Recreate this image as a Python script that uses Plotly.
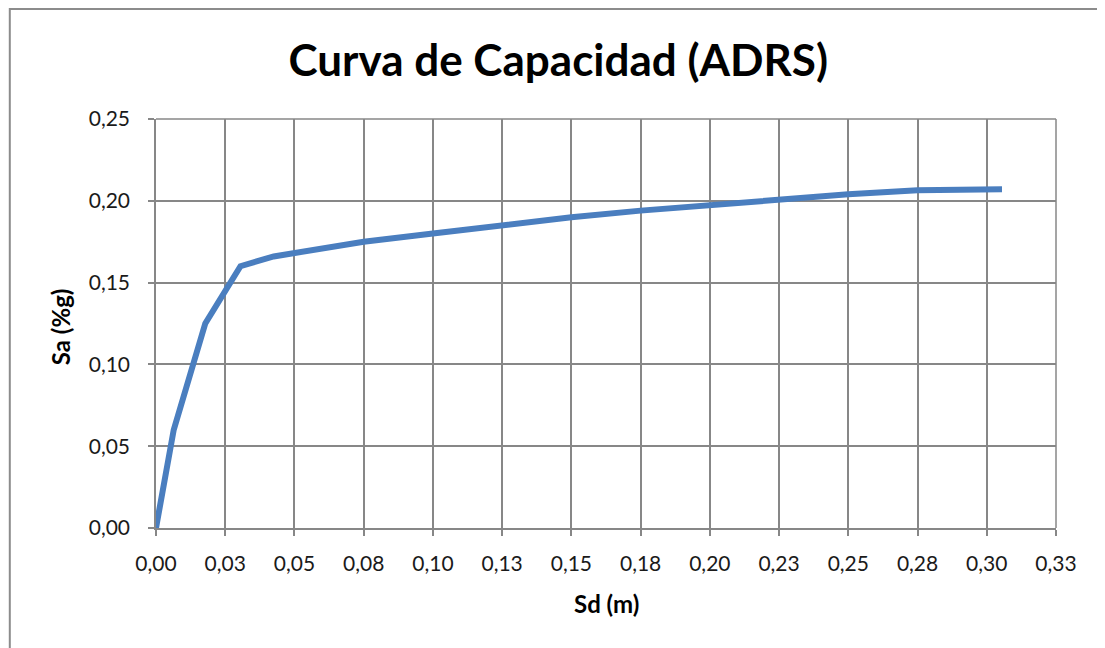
import plotly.graph_objects as go

sd = [0.0, 0.0064, 0.0178, 0.0305, 0.0425, 0.05, 0.075, 0.1, 0.125, 0.15,
      0.175, 0.2, 0.225, 0.25, 0.275, 0.3, 0.3055]
sa = [0.0, 0.060, 0.125, 0.160, 0.166, 0.168, 0.175, 0.180, 0.185, 0.190,
      0.194, 0.1975, 0.201, 0.204, 0.2065, 0.207, 0.207]

x_tickvals = [i * 0.025 for i in range(14)]
x_ticktext = ["0,00", "0,03", "0,05", "0,08", "0,10", "0,13", "0,15", "0,18",
              "0,20", "0,23", "0,25", "0,28", "0,30", "0,33"]
y_tickvals = [0.0, 0.05, 0.10, 0.15, 0.20, 0.25]
y_ticktext = ["0,00", "0,05", "0,10", "0,15", "0,20", "0,25"]

FONT = "Lato, 'Open Sans', sans-serif"
GRID = "#878787"

fig = go.Figure()
fig.add_trace(go.Scatter(x=sd, y=sa, mode="lines",
                         line=dict(color="#4A7EBF", width=6),
                         showlegend=False, hoverinfo="x+y"))

W, H = 1105, 648
OFF = 8  # page body margin
L, T = 155.7 - OFF, 119 - OFF
R = W - (1055.7 - OFF)
B = H - (528.3 - OFF)
pw, ph = W - L - R, H - T - B

def px_x(sx):
    return (sx - OFF - L) / pw

def px_y(sy):
    return 1 - (sy - OFF - T) / ph

fig.update_layout(
    width=W, height=H,
    margin=dict(l=L, r=R, t=T, b=B),
    paper_bgcolor="white", plot_bgcolor="white",
    separators=", ",
    title=dict(text="<b>Curva de Capacidad (ADRS)</b>", x=px_x(558), xref="paper",
               xanchor="center", y=1 - (61 - OFF) / H, yanchor="middle",
               font=dict(family=FONT, size=44, color="black")),
    font=dict(family=FONT, color="black"),
    xaxis=dict(range=[0, 0.325], tickvals=x_tickvals, ticktext=x_ticktext,
               showgrid=True, gridcolor=GRID, gridwidth=1.5,
               showline=True, linecolor=GRID, linewidth=1.5, mirror=False,
               ticks="outside", ticklen=6, tickcolor=GRID, tickwidth=1.5,
               ticklabelstandoff=10,
               tickfont=dict(size=21, family=FONT, color="#1a1a1a"),
               zeroline=False),
    yaxis=dict(range=[0, 0.25], tickvals=y_tickvals, ticktext=y_ticktext,
               showgrid=True, gridcolor=GRID, gridwidth=1.5,
               showline=True, linecolor=GRID, linewidth=1.5, mirror=False,
               ticks="outside", ticklen=6, tickcolor=GRID, tickwidth=1.5,
               ticklabelstandoff=14,
               tickfont=dict(size=21, family=FONT, color="#1a1a1a"),
               zeroline=False),
    annotations=[
        dict(text="<b>Sd (m)</b>", xref="paper", yref="paper",
             x=px_x(606), y=px_y(604), xanchor="center", yanchor="middle",
             showarrow=False, font=dict(size=24, family=FONT, color="black")),
        dict(text="<b>Sa (%g)</b>", xref="paper", yref="paper",
             x=px_x(61), y=px_y(327), xanchor="center", yanchor="middle",
             textangle=-90, showarrow=False,
             font=dict(size=24, family=FONT, color="black")),
    ],
    shapes=[
        dict(type="line", xref="paper", yref="paper",
             x0=1, x1=1, y0=0, y1=1, line=dict(color=GRID, width=1.5)),
        dict(type="line", xref="paper", yref="paper",
             x0=0, x1=1, y0=1, y1=1, line=dict(color=GRID, width=1.5)),
        dict(type="rect", xref="paper", yref="paper",
             x0=px_x(9.5), x1=px_x(W + 40),
             y0=px_y(H + 40), y1=1 + (T - 1) / ph,
             line=dict(color="#8c8c8c", width=2), layer="below"),
    ],
)

fig.write_html("out.html")
